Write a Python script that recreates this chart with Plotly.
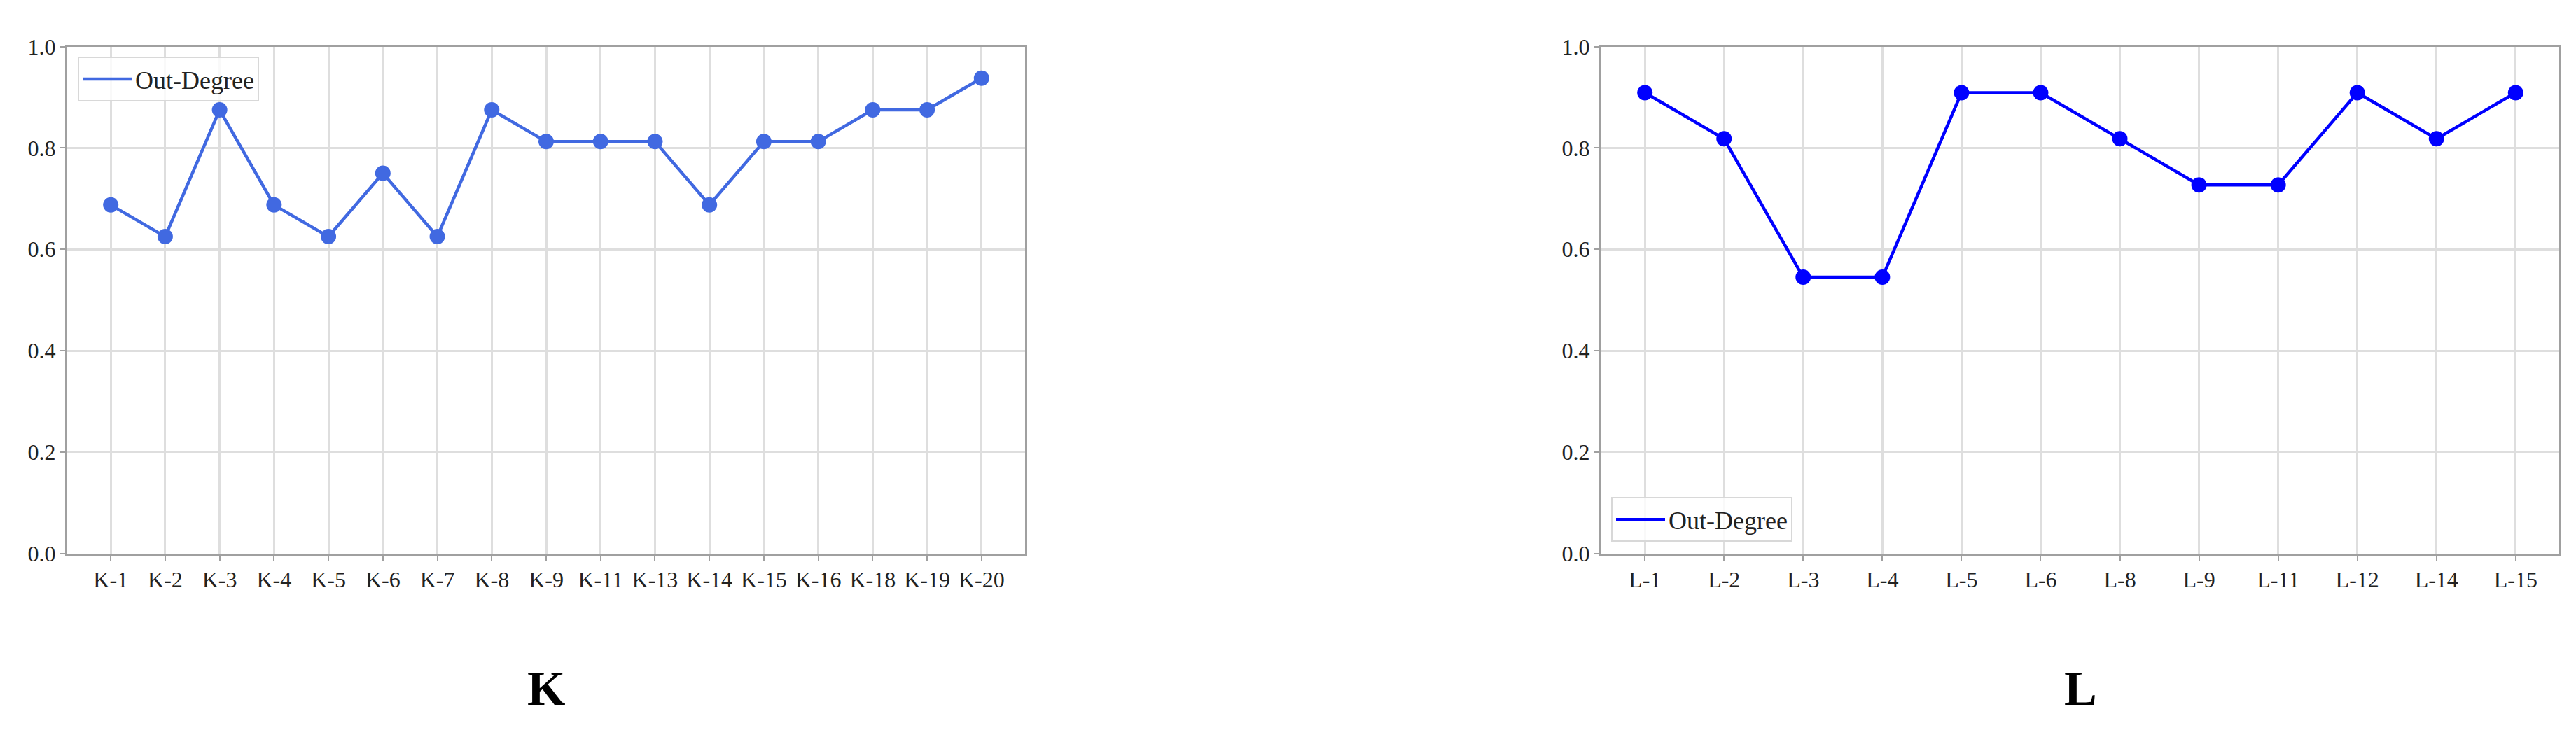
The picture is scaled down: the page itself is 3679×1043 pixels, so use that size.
import plotly.graph_objects as go

# ---- data ----
k_labels = ["K-1", "K-2", "K-3", "K-4", "K-5", "K-6", "K-7", "K-8", "K-9", "K-11",
            "K-13", "K-14", "K-15", "K-16", "K-18", "K-19", "K-20"]
k_values = [0.6875, 0.625, 0.875, 0.6875, 0.625, 0.75, 0.625, 0.875, 0.8125, 0.8125,
            0.8125, 0.6875, 0.8125, 0.8125, 0.875, 0.875, 0.9375]

l_labels = ["L-1", "L-2", "L-3", "L-4", "L-5", "L-6", "L-8", "L-9", "L-11", "L-12",
            "L-14", "L-15"]
l_values = [0.909, 0.818, 0.545, 0.545, 0.909, 0.909, 0.818, 0.727, 0.727, 0.909,
            0.818, 0.909]

y_ticks = [0.0, 0.2, 0.4, 0.6, 0.8, 1.0]
series_name = "Out-Degree"
panel_titles = ["K", "L"]

# ---- styling ----
W, H = 3679, 1043
FONT = "Liberation Serif"
K_COLOR = "#4169E1"
L_COLOR = "#0000FF"
GRID = "#dedede"
SPINE = "#a0a0a0"

def px_x(p):
    return p / W

def px_y(p):
    return 1 - p / H

dom1 = [px_x(88), px_x(1456)]
dom2 = [px_x(2279), px_x(3647)]
ydom = [px_y(792), px_y(42)]

fig = go.Figure()

# K panel
fig.add_trace(go.Scatter(x=k_labels, y=k_values, mode="lines", name=series_name,
                         line=dict(color=K_COLOR, width=4.5), xaxis="x", yaxis="y",
                         legend="legend", showlegend=True))
fig.add_trace(go.Scatter(x=k_labels, y=k_values, mode="markers",
                         marker=dict(color=K_COLOR, size=22), xaxis="x", yaxis="y",
                         showlegend=False))
# L panel
fig.add_trace(go.Scatter(x=l_labels, y=l_values, mode="lines", name=series_name,
                         line=dict(color=L_COLOR, width=4.5), xaxis="x2", yaxis="y2",
                         legend="legend2", showlegend=True))
fig.add_trace(go.Scatter(x=l_labels, y=l_values, mode="markers",
                         marker=dict(color=L_COLOR, size=22), xaxis="x2", yaxis="y2",
                         showlegend=False))

common_axis = dict(showline=True, linecolor=SPINE, linewidth=3, mirror=True,
                   showgrid=True, gridcolor=GRID, gridwidth=2.5,
                   ticks="outside", ticklen=7, tickwidth=2, tickcolor=SPINE,
                   tickfont=dict(family=FONT, size=32, color="#222222"),
                   zeroline=False, fixedrange=True)

def xr(n):
    m = (n - 1) * 0.05
    return [-m, n - 1 + m]

legend_common = dict(bgcolor="rgba(255,255,255,0.8)", bordercolor="#d8d8d8", borderwidth=2,
                     itemwidth=70, font=dict(family=FONT, size=36, color="#222222"))

fig.update_layout(
    width=W, height=H,
    margin=dict(l=0, r=0, t=0, b=0),
    paper_bgcolor="white", plot_bgcolor="white",
    font=dict(family=FONT, color="#222222"),
    xaxis=dict(domain=dom1, anchor="y", type="category", range=xr(len(k_labels)),
               **common_axis),
    yaxis=dict(domain=ydom, anchor="x", range=[0, 1], tickvals=y_ticks,
               ticktext=[f"{v:.1f}" for v in y_ticks], **common_axis),
    xaxis2=dict(domain=dom2, anchor="y2", type="category", range=xr(len(l_labels)),
                **common_axis),
    yaxis2=dict(domain=ydom, anchor="x2", range=[0, 1], tickvals=y_ticks,
                ticktext=[f"{v:.1f}" for v in y_ticks], **common_axis),
    legend=dict(x=px_x(103), y=px_y(57), xanchor="left", yanchor="top", **legend_common),
    legend2=dict(x=px_x(2293), y=px_y(775), xanchor="left", yanchor="bottom", **legend_common),
    annotations=[
        dict(text=f"<b>{panel_titles[0]}</b>", x=(dom1[0] + dom1[1]) / 2, y=px_y(992),
             xref="paper", yref="paper", showarrow=False, xanchor="center",
             yanchor="middle", font=dict(family=FONT, size=70, color="black")),
        dict(text=f"<b>{panel_titles[1]}</b>", x=(dom2[0] + dom2[1]) / 2, y=px_y(992),
             xref="paper", yref="paper", showarrow=False, xanchor="center",
             yanchor="middle", font=dict(family=FONT, size=70, color="black")),
    ],
)

fig.write_html("out.html")
